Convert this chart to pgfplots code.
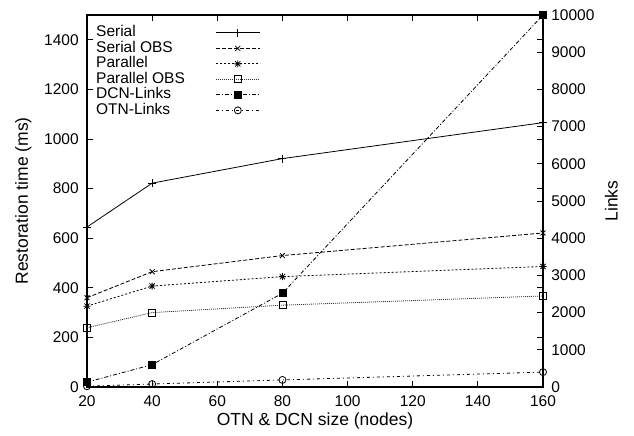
\documentclass[border=0pt]{standalone}
\usepackage{fontspec}
\setmainfont{Liberation Sans}
\usepackage{pgfplots}
\pgfplotsset{compat=1.18}

% gnuplot style "*" : a plus and a cross on top of each other
\pgfdeclareplotmark{gstar}{%
  \pgfpathmoveto{\pgfqpoint{-\pgfplotmarksize}{0pt}}%
  \pgfpathlineto{\pgfqpoint{\pgfplotmarksize}{0pt}}%
  \pgfpathmoveto{\pgfqpoint{0pt}{-\pgfplotmarksize}}%
  \pgfpathlineto{\pgfqpoint{0pt}{\pgfplotmarksize}}%
  \pgfpathmoveto{\pgfqpoint{-.75\pgfplotmarksize}{-.75\pgfplotmarksize}}%
  \pgfpathlineto{\pgfqpoint{.75\pgfplotmarksize}{.75\pgfplotmarksize}}%
  \pgfpathmoveto{\pgfqpoint{-.75\pgfplotmarksize}{.75\pgfplotmarksize}}%
  \pgfpathlineto{\pgfqpoint{.75\pgfplotmarksize}{-.75\pgfplotmarksize}}%
  \pgfusepathqstroke}

\newcommand{\tfont}{\fontsize{15.5}{18}\selectfont}
\newcommand{\lfont}{\fontsize{17.5}{20}\selectfont}

\pgfplotsset{
  every axis/.append style={
    scale only axis, width=456pt, height=372pt,
    xmin=20, xmax=160,
    axis line style={line width=1.1pt},
    tick style={line width=0.8pt, black},
    major tick length=6pt,
    /pgf/number format/assume math mode=true,
    /pgf/number format/1000 sep={},
    scaled y ticks=false,
    tick label style={font=\tfont},
    label style={font=\lfont},
  },
  ser/.style={black, line width=0.8pt, mark=+, mark size=4pt, mark options={solid}},
  serobs/.style={black, line width=0.8pt, dash pattern=on 4pt off 2pt, mark=x, mark size=3.5pt, mark options={solid}},
  par/.style={black, line width=0.8pt, dash pattern=on 2pt off 2pt, mark=gstar, mark size=3.5pt, mark options={solid}},
  parobs/.style={black!80, line width=0.8pt, dash pattern=on 1pt off 1pt, mark=square, mark size=3.5pt, mark options={solid,black}},
  dcn/.style={black, line width=0.8pt, dash pattern=on 4pt off 2pt on 1pt off 2pt, mark=square*, mark size=3.5pt, mark options={solid}},
  otn/.style={black, line width=0.8pt, dash pattern=on 3pt off 3pt on 1pt off 3pt, mark=o, mark size=3.5pt, mark options={solid}},
}

\begin{document}
\tfont
\begin{tikzpicture}
\begin{axis}[
  ymin=0, ymax=1500,
  ytick={0,200,...,1400},
  xtick={20,40,...,160},
  xtick pos=both, ytick pos=both,
  xticklabel pos=bottom, yticklabel pos=left,
  xticklabel style={yshift=-3pt},
  yticklabel style={xshift=-3pt},
  ylabel={Restoration time (ms)},
  ylabel style={yshift=2pt},
  xlabel={OTN \& DCN size (nodes)},
  xlabel style={yshift=4pt},
]
\addplot[ser] coordinates {(20,645) (40,822) (80,921) (160,1066)};
\addplot[serobs] coordinates {(20,360) (40,465) (80,530) (160,621)};
\addplot[par] coordinates {(20,326) (40,407) (80,445) (160,486)};
\addplot[parobs] coordinates {(20,239) (40,300) (80,330) (160,367)};
\coordinate (sw) at (rel axis cs:0,0);
\coordinate (ne) at (rel axis cs:1,1);
\end{axis}
\begin{axis}[
  ymin=0, ymax=10000,
  ytick={0,1000,...,10000},
  axis y line*=right,
  hide x axis,
  yticklabel style={xshift=3pt},
  ylabel={Links},
  ylabel style={yshift=0pt},
  legend style={at={(rel axis cs:0.012,0.978)}, anchor=north west,
    draw=none, fill=none, column sep=30pt, row sep=0.5pt,
    cells={anchor=west},
    nodes={font=\tfont, inner sep=0.5pt, text height=11pt, text depth=3pt}},
  legend plot pos=right,
  legend image code/.code={\draw[mark repeat=2,mark phase=2] plot coordinates {(0pt,0pt) (22pt,0pt) (44pt,0pt)};},
]
\addlegendimage{ser}\addlegendentry{Serial}
\addlegendimage{serobs}\addlegendentry{Serial OBS}
\addlegendimage{par}\addlegendentry{Parallel}
\addlegendimage{parobs}\addlegendentry{Parallel OBS}
\addplot[dcn] coordinates {(20,130) (40,600) (80,2520) (160,10000)};
\addlegendentry{DCN-Links}
\addplot[otn] coordinates {(20,20) (40,80) (80,190) (160,400)};
\addlegendentry{OTN-Links}
\end{axis}
\path ([shift={(-87pt,-49pt)}]sw) rectangle ([shift={(91pt,15pt)}]ne);
\end{tikzpicture}
\end{document}
